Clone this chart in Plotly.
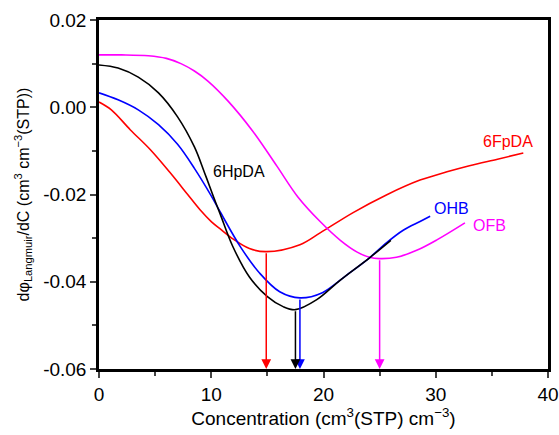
import numpy as np
import plotly.graph_objects as go

# OFB (magenta)
ofb_x = [0, 2, 4.4, 6, 7.3, 8.5, 9.7, 11.5, 13.7, 15.85, 17.7, 19.7, 21.5, 23.0, 24.1, 25.0, 26.5, 28.3, 30.1, 32.6]
ofb_y = [0.0120, 0.0120, 0.0118, 0.0112, 0.0100, 0.0083, 0.0060, 0.0014, -0.0055, -0.0135, -0.0205, -0.0262,
         -0.0305, -0.0332, -0.0344, -0.0347, -0.0344, -0.0328, -0.0304, -0.0265]

# 6HpDA (black)
hp_x = [0, 1.7, 3.5, 5.3, 7.0, 8.5, 9.4, 10.2, 10.8, 11.9, 13.4, 15.0, 16.4, 17.5, 19.4, 21.5, 24.1, 26.0]
hp_y = [0.0097, 0.0090, 0.0069, 0.0033, -0.0022, -0.0091, -0.0150, -0.0205, -0.0245, -0.0318, -0.0389,
        -0.0434, -0.0457, -0.0464, -0.0441, -0.0396, -0.0345, -0.0305]

# OHB (blue)
ohb_x = [0, 1.7, 3.5, 5.3, 7.0, 8.5, 10.0, 10.8, 12.6, 14.3, 16.1, 17.9, 19.9, 22.1, 24.1, 25.6, 27.1, 28.6, 29.5]
ohb_y = [0.0033, 0.0017, -0.0006, -0.0040, -0.0085, -0.0140, -0.0203, -0.0240, -0.0320, -0.0380, -0.0423,
         -0.0437, -0.0425, -0.0384, -0.0345, -0.0311, -0.0282, -0.0262, -0.0250]

# 6FpDA (red)
fp_x = [0, 1.1, 2.8, 4.6, 6.4, 7.9, 9.0, 10.0, 10.8, 12.0, 13.4, 14.9, 17.9, 19.7, 22.6, 25.6, 28.6, 31.0,
        33.0, 35.5, 37.8]
fp_y = [0.0012, -0.0006, -0.0052, -0.0098, -0.0152, -0.0200, -0.0235, -0.0262, -0.0279, -0.0303, -0.0324,
        -0.0331, -0.0315, -0.0288, -0.0242, -0.0201, -0.0167, -0.0148, -0.0134, -0.0119, -0.0105]

series = [
    ("6FpDA", fp_x, fp_y, "#ff0000"),
    ("OFB", ofb_x, ofb_y, "#ff00ff"),
    ("OHB", ohb_x, ohb_y, "#0000ff"),
    ("6HpDA", hp_x, hp_y, "#000000"),
]

labels = [
    ("6HpDA", 12.5, -0.0148, "#000000"),
    ("6FpDA", 36.4, -0.0079, "#ff0000"),
    ("OHB", 31.4, -0.0231, "#0000ff"),
    ("OFB", 34.8, -0.0270, "#ff00ff"),
]

FONT = "Liberation Sans, Arial, sans-serif"
fig = go.Figure()
for name, xs, ys, col in series:
    fig.add_trace(go.Scatter(x=xs, y=ys, mode="lines", name=name,
                             line=dict(color=col, width=1.6, shape="spline", smoothing=1.0),
                             showlegend=False))

annotations = []
for name, xs, ys, col in series:
    i = int(np.argmin(ys))
    annotations.append(dict(x=xs[i], y=-0.06, ax=xs[i], ay=ys[i], xref="x", yref="y",
                            axref="x", ayref="y", showarrow=True, arrowhead=2, arrowsize=1.3,
                            arrowwidth=1.5, arrowcolor=col, text=""))
for txt, x, y, col in labels:
    annotations.append(dict(x=x, y=y, xref="x", yref="y", text=txt, showarrow=False,
                            font=dict(family=FONT, size=16, color=col)))

fig.update_layout(
    width=559, height=435,
    margin=dict(l=99, r=11, t=20, b=66),
    paper_bgcolor="white", plot_bgcolor="white",
    font=dict(family=FONT, size=19, color="black"),
    annotations=annotations,
    xaxis=dict(range=[0, 40], tickvals=[0, 10, 20, 30, 40], ticks="outside", ticklen=6,
               tickwidth=2, showline=True, linewidth=2.5, linecolor="black", mirror=True,
               showgrid=False, zeroline=False, tickfont=dict(size=19), automargin=False,
               minor=dict(tickvals=[5, 15, 25, 35], ticks="outside", ticklen=4, tickwidth=2),
               title=dict(text="Concentration (cm<sup>3</sup>(STP) cm<sup>−3</sup>)",
                          font=dict(size=19), standoff=8)),
    yaxis=dict(range=[-0.06, 0.02], tickvals=[-0.06, -0.04, -0.02, 0.0, 0.02],
               ticktext=["-0.06", "-0.04", "-0.02", "0.00", "0.02"], ticks="outside", ticklen=6,
               tickwidth=2, showline=True, linewidth=2.5, linecolor="black", mirror=True,
               showgrid=False, zeroline=False, tickfont=dict(size=19), automargin=False,
               minor=dict(tickvals=[-0.05, -0.03, -0.01, 0.01], ticks="outside", ticklen=4, tickwidth=2),
               title=dict(text="dφ<sub>Langmuir</sub>/dC (cm<sup>3</sup> cm<sup>−3</sup>(STP))",
                          font=dict(size=16), standoff=10)),
)

fig.write_html("out.html")
